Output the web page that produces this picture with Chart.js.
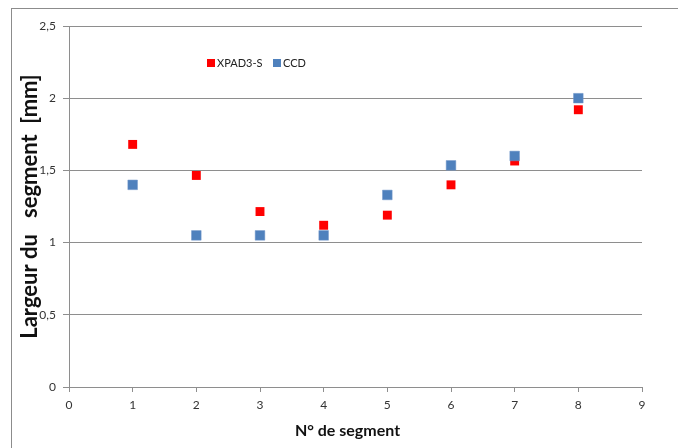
<!DOCTYPE html>
<html>
<head>
<meta charset="utf-8">
<script src="https://cdn.jsdelivr.net/npm/chart.js@4"></script>
<style>
  html, body { margin: 0; padding: 0; background: #fff; }
  #wrap { position: relative; width: 678px; height: 448px; overflow: hidden; }
  #frame { position: absolute; left: 11px; top: 8px; width: 800px; height: 600px; border: 1px solid #8c8c8c; box-sizing: border-box; }
  canvas { position: absolute; left: 0; top: 0; }
</style>
</head>
<body>
<div id="wrap">
  <div id="frame"></div>
  <canvas id="c" width="678" height="448"></canvas>
</div>
<script>
const segments = [1, 2, 3, 4, 5, 6, 7, 8];
const xpadValues = [1.68, 1.465, 1.215, 1.12, 1.19, 1.40, 1.565, 1.92];
const ccdValues  = [1.40, 1.05, 1.05, 1.05, 1.33, 1.535, 1.60, 2.00];
const seriesNames = ['XPAD3-S', 'CCD'];
const yTickLabels = ['0', '0,5', '1', '1,5', '2', '2,5'];
const xTickLabels = ['0', '1', '2', '3', '4', '5', '6', '7', '8', '9'];
const xTitle = 'N° de segment';
const yTitle = 'Largeur du   segment  [mm]';

const FONT = 'Lato, "Open Sans", sans-serif';
const GRID = '#8e8e8e';

const overlayPlugin = {
  id: 'overlayText',
  afterDraw(chart) {
    const ctx = chart.ctx;
    const a = chart.chartArea;
    const items = [
      { ds: chart.data.datasets[0], x: a.left + 138 },
      { ds: chart.data.datasets[1], x: a.left + 204 }
    ];
    const cy = a.top + 37;
    ctx.save();
    ctx.font = '11px ' + FONT;
    ctx.textBaseline = 'middle';
    ctx.textAlign = 'left';
    items.forEach(it => {
      ctx.fillStyle = it.ds.backgroundColor;
      ctx.fillRect(it.x, cy - 4, 8, 8);
      ctx.fillStyle = '#222';
      ctx.fillText(it.ds.label, it.x + 10, cy);
    });
    // x axis title
    ctx.font = 'bold 16px ' + FONT;
    ctx.textAlign = 'center';
    ctx.fillStyle = '#111';
    ctx.fillText(xTitle, (a.left + a.right) / 2 - 8, a.bottom + 44);
    ctx.restore();
  }
};

new Chart(document.getElementById('c'), {
  type: 'scatter',
  data: {
    datasets: [
      {
        label: seriesNames[0],
        data: segments.map((s, i) => ({ x: s, y: xpadValues[i] })),
        backgroundColor: '#ff0000',
        borderColor: '#ff0000',
        pointStyle: 'rect',
        pointRadius: 6.3,
        pointHoverRadius: 6.3,
        borderWidth: 0,
        order: 1
      },
      {
        label: seriesNames[1],
        data: segments.map((s, i) => ({ x: s, y: ccdValues[i] })),
        backgroundColor: '#4f81bd',
        borderColor: '#6f95c8',
        pointStyle: 'rect',
        pointRadius: 6.8,
        pointHoverRadius: 6.8,
        borderWidth: 0.5,
        order: 0
      }
    ]
  },
  options: {
    responsive: false,
    animation: false,
    events: [],
    layout: { padding: { left: 0, top: 26, right: 36, bottom: 0 } },
    plugins: {
      legend: { display: false },
      tooltip: { enabled: false }
    },
    scales: {
      x: {
        type: 'linear',
        min: 0, max: 9,
        afterFit(scale) { scale.height = 61; },
        afterBuildTicks(scale) {
          scale.ticks = xTickLabels.map((l, i) => ({ value: i }));
        },
        ticks: {
          stepSize: 1,
          padding: 6,
          color: '#333',
          font: { family: FONT, size: 12 },
          maxRotation: 0,
          callback: (v, i) => xTickLabels[i]
        },
        grid: {
          drawOnChartArea: false,
          drawTicks: true,
          tickLength: 5,
          tickColor: GRID
        },
        border: { color: GRID, width: 1 },
        title: { display: false }
      },
      y: {
        type: 'linear',
        min: 0, max: 2.5,
        afterFit(scale) { scale.width = 69; },
        afterBuildTicks(scale) {
          scale.ticks = yTickLabels.map((l, i) => ({ value: i * 0.5 }));
        },
        ticks: {
          stepSize: 0.5,
          padding: 7,
          color: '#333',
          font: { family: FONT, size: 12 },
          callback: (v, i) => yTickLabels[i]
        },
        grid: {
          color: GRID,
          lineWidth: 1,
          drawTicks: true,
          tickLength: 6,
          tickColor: GRID
        },
        border: { color: GRID, width: 1 },
        title: {
          display: true,
          text: yTitle,
          color: '#111',
          font: { family: FONT, size: 22, weight: 'bold' },
          padding: { top: 17, bottom: 0 }
        }
      }
    }
  },
  plugins: [overlayPlugin]
});
</script>
</body>
</html>
